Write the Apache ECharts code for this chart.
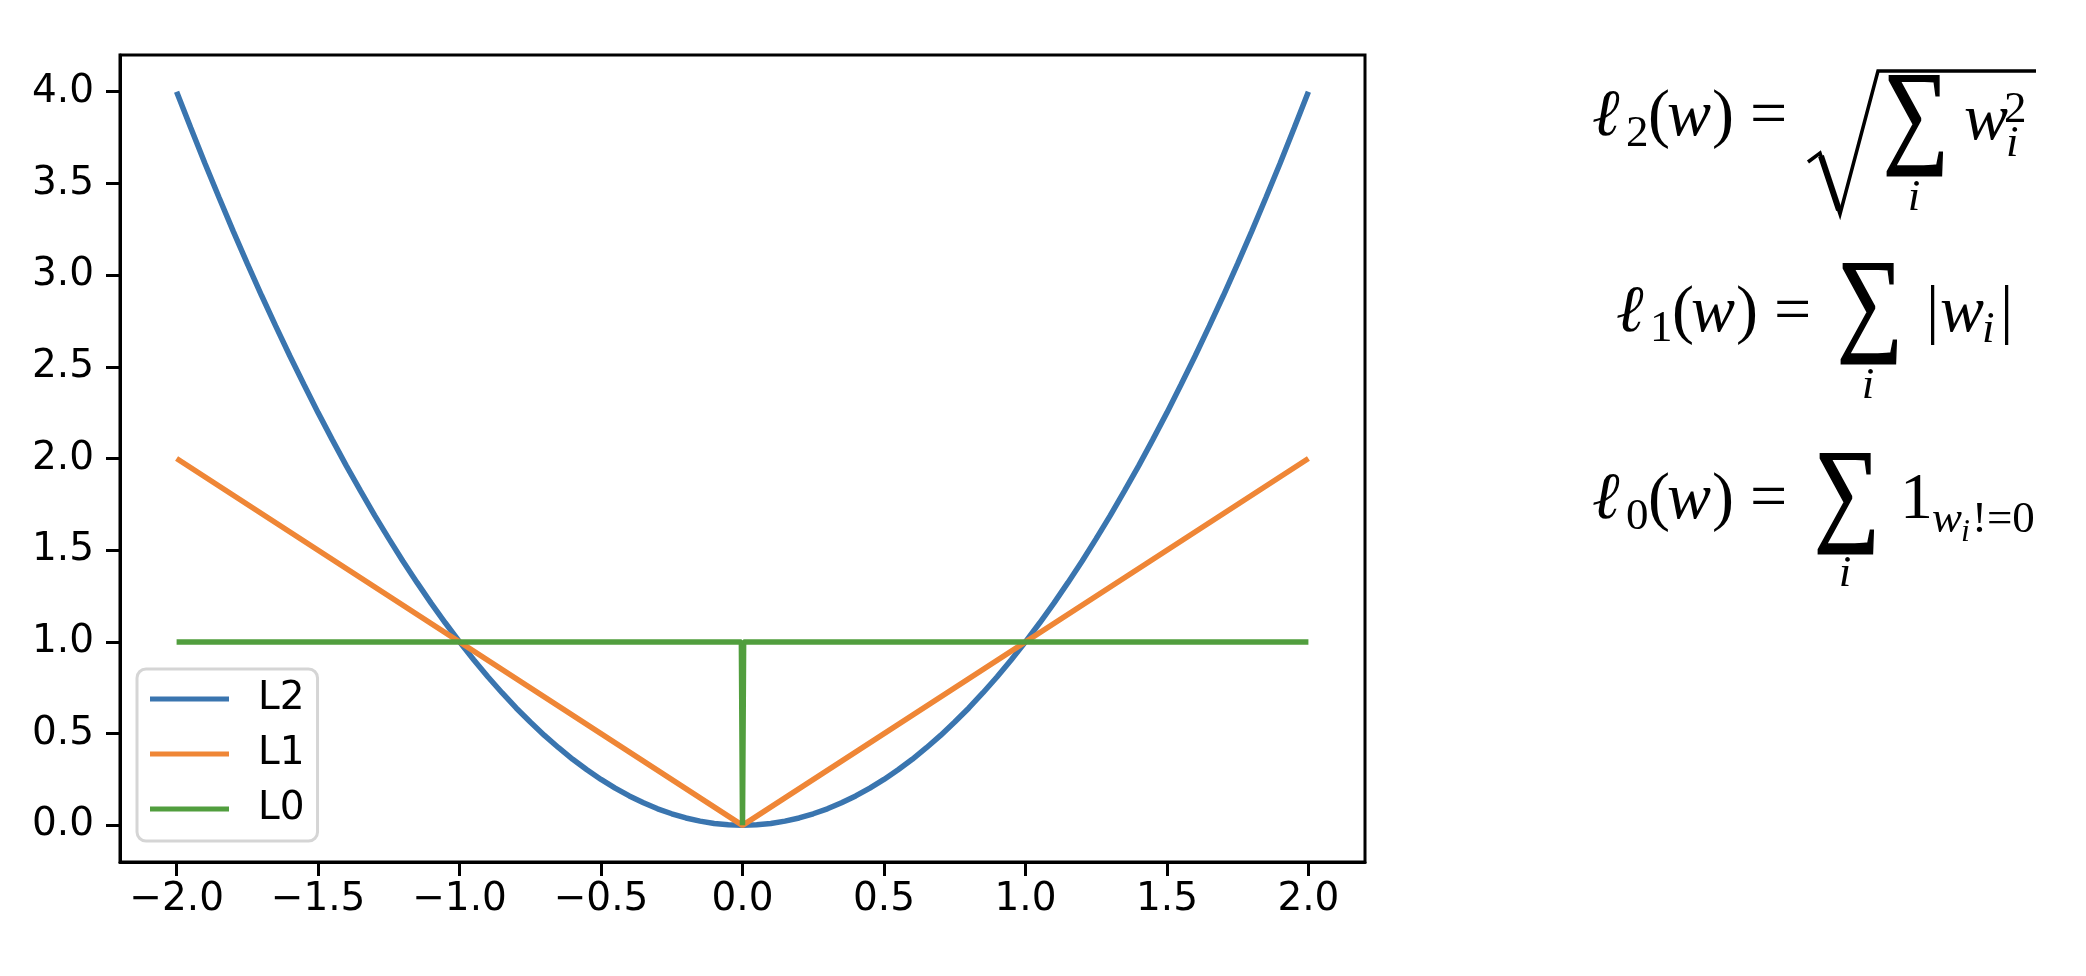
<!DOCTYPE html>
<html>
<head>
<meta charset="utf-8">
<title>L2 / L1 / L0</title>
<script src="https://cdn.jsdelivr.net/npm/echarts@6/dist/echarts.min.js"></script>
<style>
  html, body { margin: 0; padding: 0; background: #fff; }
  #chart { width: 2086px; height: 976px; }
</style>
</head>
<body>
<div id="chart"></div>
<script>
  // values
  const l2X = [-2.00, -1.95, -1.90, -1.85, -1.80, -1.75, -1.70, -1.65, -1.60, -1.55,
    -1.50, -1.45, -1.40, -1.35, -1.30, -1.25, -1.20, -1.15, -1.10, -1.05,
    -1.00, -0.95, -0.90, -0.85, -0.80, -0.75, -0.70, -0.65, -0.60, -0.55,
    -0.50, -0.45, -0.40, -0.35, -0.30, -0.25, -0.20, -0.15, -0.10, -0.05,
    0.00, 0.05, 0.10, 0.15, 0.20, 0.25, 0.30, 0.35, 0.40, 0.45,
    0.50, 0.55, 0.60, 0.65, 0.70, 0.75, 0.80, 0.85, 0.90, 0.95,
    1.00, 1.05, 1.10, 1.15, 1.20, 1.25, 1.30, 1.35, 1.40, 1.45,
    1.50, 1.55, 1.60, 1.65, 1.70, 1.75, 1.80, 1.85, 1.90, 1.95, 2.00]
  const l2Y = [4.000, 3.803, 3.610, 3.423, 3.240, 3.063, 2.890, 2.723, 2.560, 2.403,
    2.250, 2.103, 1.960, 1.823, 1.690, 1.563, 1.440, 1.323, 1.210, 1.103,
    1.000, 0.903, 0.810, 0.723, 0.640, 0.563, 0.490, 0.423, 0.360, 0.303,
    0.250, 0.203, 0.160, 0.123, 0.090, 0.063, 0.040, 0.023, 0.010, 0.003,
    0.000, 0.003, 0.010, 0.023, 0.040, 0.063, 0.090, 0.123, 0.160, 0.203,
    0.250, 0.303, 0.360, 0.423, 0.490, 0.563, 0.640, 0.723, 0.810, 0.903,
    1.000, 1.103, 1.210, 1.323, 1.440, 1.563, 1.690, 1.823, 1.960, 2.103,
    2.250, 2.403, 2.560, 2.723, 2.890, 3.063, 3.240, 3.423, 3.610, 3.803, 4.000]
  const l1X = [-2.0, 0.0, 2.0]
  const l1Y = [2.0, 0.0, 2.0]
  const l0X = [-2.0, -0.004, 0.0, 0.004, 2.0]
  const l0Y = [1.0, 1.0, 0.0, 1.0, 1.0]
  const seriesNames = ['L2', 'L1', 'L0']
  const xTicks = [-2.0, -1.5, -1.0, -0.5, 0.0, 0.5, 1.0, 1.5, 2.0]
  const yTicks = [0.0, 0.5, 1.0, 1.5, 2.0, 2.5, 3.0, 3.5, 4.0]

  const colors = ['#3a75af', '#ef8636', '#519e3e']
  const tickFont = 'DejaVu Sans'
  const mathFont = 'Liberation Serif'

  const pairs = (xs, ys) => xs.map((x, i) => [x, ys[i]])
  const fmt = v => (v < 0 ? '\u2212' : '') + Math.abs(v).toFixed(1)

  // text piece of a formula, y given as baseline
  function mt(text, x, base, size, italic) {
    return {
      type: 'text',
      x: x,
      y: base - size * 0.3,
      style: {
        text: text,
        fill: '#000',
        font: (italic ? 'italic ' : '') + size + 'px "' + mathFont + '"',
        align: 'left',
        verticalAlign: 'middle'
      }
    }
  }
  // big summation sign (scaled about its own anchor)
  function sum(cx, cy) {
    return {
      type: 'text',
      x: cx,
      y: cy,
      scaleY: 1.25,
      style: {
        text: '\u2211',
        fill: '#000',
        stroke: '#000',
        lineWidth: 1.4,
        font: '92px "' + mathFont + '"',
        align: 'center',
        verticalAlign: 'middle'
      }
    }
  }
  function under(text, cx, base, size) {
    const t = mt(text, cx, base, size, true)
    t.style.align = 'center'
    return t
  }

  const F = 66, S = 45, SS = 32
  const formula = [
    // l2(w) = sqrt(sum_i w_i^2)
    mt('\u2113', 1592, 137, F, true),
    mt('2', 1626, 148, S, false),
    mt('(', 1648, 137, F, false),
    mt('w', 1667, 137, F, true),
    mt(')', 1712, 137, F, false),
    mt('=', 1750, 137, F, false),
    {
      type: 'polyline',
      shape: { points: [[1808, 162], [1820, 153], [1840, 214], [1878, 71], [2036, 71]] },
      style: { stroke: '#000', lineWidth: 3.5, fill: null, lineJoin: 'miter' }
    },
    {
      type: 'line',
      shape: { x1: 1821, y1: 156, x2: 1839, y2: 210 },
      style: { stroke: '#000', lineWidth: 6 }
    },
    sum(1916, 121),
    under('i', 1914, 212, S),
    mt('w', 1964, 141, F, true),
    mt('2', 2004, 124, S, false),
    mt('i', 2006, 158, S, true),

    // l1(w) = sum_i |w_i|
    mt('\u2113', 1616, 333, F, true),
    mt('1', 1650, 343, S, false),
    mt('(', 1672, 333, F, false),
    mt('w', 1691, 333, F, true),
    mt(')', 1736, 333, F, false),
    mt('=', 1774, 333, F, false),
    sum(1870, 309),
    under('i', 1868, 400, S),
    mt('|', 1926, 333, F, false),
    mt('w', 1940, 333, F, true),
    mt('i', 1982, 344, S, true),
    mt('|', 2000, 333, F, false),

    // l0(w) = sum_i 1_{w_i != 0}
    mt('\u2113', 1592, 520, F, true),
    mt('0', 1626, 531, S, false),
    mt('(', 1648, 520, F, false),
    mt('w', 1667, 520, F, true),
    mt(')', 1712, 520, F, false),
    mt('=', 1750, 520, F, false),
    sum(1847, 499),
    under('i', 1845, 588, S),
    mt('1', 1900, 520, F, false),
    mt('w', 1932, 534, S, true),
    mt('i', 1961, 542, SS, true),
    mt('!=0', 1972, 534, S, false)
  ]

  const chart = echarts.init(document.getElementById('chart'))
  chart.setOption({
    animation: false,
    backgroundColor: '#fff',
    color: colors,
    grid: {
      left: 120,
      top: 55,
      width: 1245,
      height: 807,
      show: true,
      borderColor: '#000',
      borderWidth: 3,
      backgroundColor: 'transparent'
    },
    legend: {
      orient: 'vertical',
      left: 137,
      top: 669,
      icon: 'rect',
      itemWidth: 79,
      itemHeight: 5,
      itemGap: 15,
      padding: [10, 13, 12, 13],
      backgroundColor: 'rgba(255,255,255,0.8)',
      borderColor: '#d5d5d5',
      borderWidth: 3,
      borderRadius: 9,
      textStyle: {
        fontFamily: tickFont,
        fontSize: 39,
        lineHeight: 40,
        color: '#000',
        padding: [0, 0, 0, 24]
      },
      data: seriesNames
    },
    xAxis: {
      type: 'value',
      min: -2.2,
      max: 2.2,
      splitLine: { show: false },
      axisLine: { show: true, onZero: false, lineStyle: { color: '#000', width: 3 } },
      axisTick: { show: true, length: 14, customValues: xTicks, lineStyle: { color: '#000', width: 3 } },
      axisLabel: {
        customValues: xTicks,
        formatter: fmt,
        margin: 18,
        fontFamily: tickFont,
        fontSize: 39,
        color: '#000'
      }
    },
    yAxis: {
      type: 'value',
      min: -0.2,
      max: 4.2,
      splitLine: { show: false },
      axisLine: { show: true, onZero: false, lineStyle: { color: '#000', width: 3 } },
      axisTick: { show: true, length: 14, customValues: yTicks, lineStyle: { color: '#000', width: 3 } },
      axisLabel: {
        customValues: yTicks,
        formatter: fmt,
        margin: 26,
        fontFamily: tickFont,
        fontSize: 39,
        color: '#000'
      }
    },
    series: [
      { name: seriesNames[0], type: 'line', data: pairs(l2X, l2Y), showSymbol: false, lineStyle: { width: 5.5 } },
      { name: seriesNames[1], type: 'line', data: pairs(l1X, l1Y), showSymbol: false, lineStyle: { width: 5.5 } },
      { name: seriesNames[2], type: 'line', data: pairs(l0X, l0Y), showSymbol: false, lineStyle: { width: 5.5 } }
    ],
    graphic: formula
  })
</script>
</body>
</html>
